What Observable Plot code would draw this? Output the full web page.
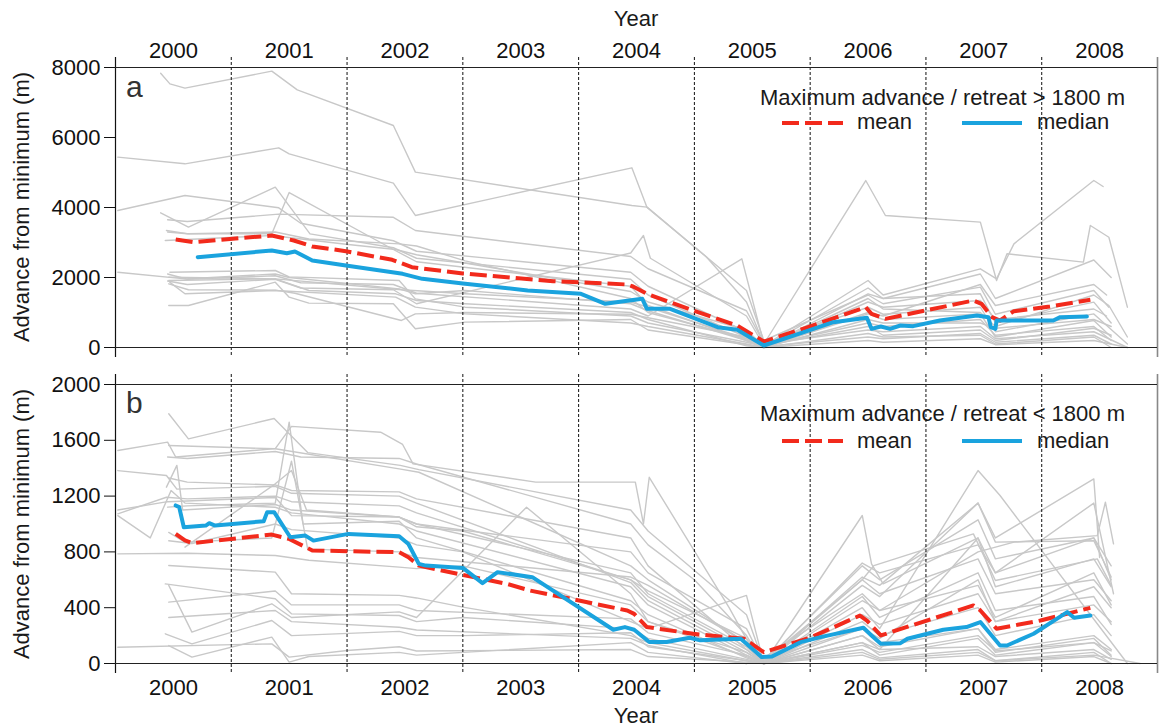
<!DOCTYPE html>
<html><head><meta charset="utf-8">
<script src="https://cdn.jsdelivr.net/npm/d3@7"></script>
<script src="https://cdn.jsdelivr.net/npm/@observablehq/plot@0.6"></script>
<style>
body{margin:0;background:#fff;}
#wrap{position:relative;width:1159px;height:727px;overflow:hidden;font-family:"Liberation Sans",Arial,sans-serif;}
#wrap svg{overflow:visible;}
.panel{position:absolute;left:0;}
</style></head><body><div id="wrap"></div>
<script>
// ---------- data ----------
const years = [2000, 2001, 2002, 2003, 2004, 2005, 2006, 2007, 2008];
const yearBoundaries = [2001, 2002, 2003, 2004, 2005, 2006, 2007, 2008];
const xDomain = [2000, 2009];
const topTicks = [0, 2000, 4000, 6000, 8000];
const bottomTicks = [0, 400, 800, 1200, 1600, 2000];
const yTitle = "Advance from minimum (m)";
const xTitle = "Year";
const topLegendTitle = "Maximum advance / retreat > 1800 m";
const bottomLegendTitle = "Maximum advance / retreat < 1800 m";
const legendNames = ["mean", "median"];
const panelLetters = ["a", "b"];

const topMean = [[2000.52,3086],[2000.68,3010],[2001.35,3200],[2001.54,3057],[2001.70,2886],[2001.99,2752],[2002.39,2505],[2002.56,2295],[2003.0,2115],[2003.78,1895],[2004.42,1800],[2004.47,1743],[2004.59,1533],[2004.99,1057],[2005.37,629],[2005.51,343],[2005.6,170],[2006.0,600],[2006.48,1152],[2006.53,962],[2006.65,819],[2007.41,1343],[2007.48,1248],[2007.57,867],[2007.64,771],[2007.76,1038],[2008.07,1171],[2008.42,1362]];
const topMedian = [[2000.71,2581],[2001.35,2771],[2001.48,2695],[2001.55,2743],[2001.70,2486],[2001.99,2343],[2002.48,2105],[2002.65,1962],[2003.0,1830],[2003.56,1629],[2004.02,1533],[2004.23,1248],[2004.55,1390],[2004.59,1105],[2004.79,1105],[2005.2,581],[2005.37,505],[2005.6,57],[2005.92,410],[2006.2,724],[2006.49,848],[2006.53,533],[2006.61,600],[2006.69,533],[2006.78,628],[2006.89,610],[2007.12,771],[2007.44,914],[2007.54,867],[2007.56,581],[2007.6,533],[2007.61,771],[2008.1,771],[2008.16,867],[2008.39,886]];
const topGlaciers = [
 [[2000.39,7838],[2000.47,7533],[2000.6,7410],[2001.35,7895],[2001.57,7362],[2002.4,6343],[2002.59,5010],[2004.46,4057],[2004.59,4010],[2005.45,1629],[2005.6,200],[2006.5,1500],[2006.63,1250],[2007.47,1724],[2007.6,950],[2008.45,1629],[2008.58,1150]],
 [[2000.02,5438],[2000.6,5248],[2001.41,5705],[2001.5,5533],[2002.4,4695],[2002.59,3772],[2004.46,5134],[2004.59,4010],[2005.1,2600],[2005.45,1300],[2005.6,100],[2006.48,4771],[2006.65,3771],[2007.47,3581],[2007.61,1914],[2007.7,2677],[2008.36,2438],[2008.42,3486],[2008.58,3150],[2008.74,1152]],
 [[2000.02,3915],[2000.6,4343],[2001.41,3991],[2001.6,3550],[2002.4,3050],[2002.6,2750],[2004.45,2150],[2004.6,1750],[2005.45,450],[2005.6,50],[2006.5,1914],[2006.63,1500],[2007.47,2248],[2007.61,1962],[2007.76,2962],[2008.45,4771],[2008.53,4600]],
 [[2000.39,3848],[2000.63,3438],[2001.38,4581],[2001.68,3248],[2002.4,2850],[2002.6,2550],[2004.45,1950],[2004.6,1500],[2005.45,300],[2005.6,0],[2006.5,1534],[2006.63,1400],[2007.47,1534],[2007.6,700],[2008.45,1295],[2008.6,700]],
 [[2000.45,3648],[2000.62,3600],[2001.41,3810],[2002.4,3720],[2002.59,3343],[2004.45,2600],[2004.6,2250],[2005.45,1050],[2005.6,120],[2006.5,1150],[2006.63,950],[2007.47,1150],[2007.6,450],[2008.45,960],[2008.74,100]],
 [[2000.45,3300],[2000.62,3250],[2001.35,3250],[2001.5,4428],[2002.4,2800],[2002.6,2450],[2004.45,1750],[2004.6,1200],[2005.45,200],[2005.6,0],[2006.5,960],[2006.63,800],[2007.47,960],[2007.6,300],[2008.45,770],[2008.6,300]],
 [[2000.45,1900],[2000.62,1800],[2001.38,1950],[2001.6,1700],[2002.4,1650],[2002.6,1250],[2004.45,2700],[2004.56,3200],[2004.62,2550],[2005.45,900],[2005.6,50],[2006.5,700],[2006.63,600],[2007.47,800],[2007.6,350],[2008.45,600],[2008.6,200]],
 [[2000.45,2100],[2000.62,1950],[2001.38,2050],[2001.6,1850],[2002.4,1800],[2002.6,1550],[2004.45,1100],[2004.6,900],[2005.41,2534],[2005.6,100],[2006.5,500],[2006.63,450],[2007.47,600],[2007.6,250],[2008.45,450],[2008.74,0]],
 [[2000.02,2152],[2000.6,1962],[2001.38,2100],[2001.5,2000],[2002.45,1676],[2002.59,1534],[2003.02,1629],[2004.45,1250],[2004.6,1050],[2005.45,200],[2005.6,0],[2006.5,1300],[2006.63,1150],[2007.47,1343],[2007.6,800],[2008.45,1100],[2008.56,900]],
 [[2000.47,2152],[2001.38,2200],[2001.5,2019],[2002.45,1914],[2002.59,1390],[2003.02,1152],[2004.45,900],[2004.6,700],[2005.45,150],[2005.6,30],[2006.5,300],[2006.63,250],[2007.47,400],[2007.6,150],[2008.45,350],[2008.6,100]],
 [[2000.46,1914],[2001.38,1962],[2002.47,1650],[2003.02,1534],[2004.45,1300],[2004.6,1150],[2005.45,250],[2005.6,0],[2006.5,800],[2006.63,700],[2007.47,700],[2007.6,550],[2008.45,800],[2008.6,600]],
 [[2000.47,1860],[2000.6,1534],[2001.38,1629],[2002.42,1438],[2002.59,1152],[2003.02,962],[2004.45,700],[2004.6,600],[2005.45,100],[2005.6,0],[2006.5,200],[2006.63,150],[2007.47,250],[2007.6,80],[2008.45,200],[2008.74,0]],
 [[2000.46,1200],[2000.63,1200],[2001.38,1867],[2001.5,1438],[2001.67,1267],[2002.4,1248],[2002.59,534],[2003.02,724],[2004.45,800],[2004.6,500],[2005.45,80],[2005.6,0],[2006.5,1400],[2006.63,1100],[2007.47,1000],[2007.6,600],[2008.45,1500],[2008.58,1200],[2008.74,300]],
 [[2000.46,1819],[2000.63,1650],[2001.38,1640],[2001.55,1550],[2002.47,772],[2002.59,962],[2003.02,1000],[2004.45,950],[2004.6,850],[2005.45,300],[2005.6,50],[2006.5,600],[2006.63,350],[2007.47,500],[2007.6,200],[2008.45,550],[2008.6,350]],
 [[2000.46,2010],[2001.38,1962],[2001.67,1629],[2002.42,1534],[2002.6,1343],[2003.02,1250],[2004.45,1000],[2004.6,800],[2005.45,50],[2005.6,0],[2006.5,1000],[2006.63,900],[2007.47,1800],[2007.6,1200],[2008.45,1800],[2008.56,1500]],
 [[2000.43,3057],[2001.35,3200],[2001.99,2950],[2002.42,2800],[2002.6,2650],[2004.45,1600],[2004.6,1300],[2005.45,500],[2005.6,30],[2006.5,1700],[2006.63,1400],[2007.47,2100],[2007.6,1400],[2008.45,2500],[2008.6,2000]],
 [[2000.44,3343],[2000.63,3248],[2001.38,3300],[2001.67,3100],[2002.45,2960],[2002.6,2900],[2003.02,2476],[2004.45,1400],[2004.6,1000],[2005.45,250],[2005.6,0],[2006.5,400],[2006.63,300],[2007.47,350],[2007.6,100],[2008.45,300],[2008.6,0]]
];

const bottomMean = [[2000.52,929],[2000.60,882],[2000.66,863],[2001.35,924],[2001.50,893],[2001.70,810],[2002.01,805],[2002.45,798],[2002.53,762],[2002.62,702],[2003.0,635],[2003.38,571],[2003.58,523],[2003.93,464],[2004.42,380],[2004.48,356],[2004.59,261],[2004.99,213],[2005.43,177],[2005.6,81],[2006.0,185],[2006.43,344],[2006.49,308],[2006.61,201],[2007.41,416],[2007.47,380],[2007.61,249],[2007.99,308],[2008.42,399]];
const bottomMedian = [[2000.52,1133],[2000.55,1121],[2000.59,977],[2000.78,989],[2000.81,1006],[2000.86,989],[2001.28,1020],[2001.31,1085],[2001.37,1085],[2001.51,905],[2001.64,917],[2001.71,881],[2002.01,929],[2002.45,912],[2002.53,857],[2002.62,714],[2002.68,702],[2003.0,685],[2003.17,576],[2003.30,655],[2003.6,619],[2004.3,242],[2004.4,261],[2004.48,242],[2004.61,154],[2004.76,154],[2004.96,185],[2005.05,166],[2005.4,177],[2005.45,141],[2005.58,46],[2005.67,50],[2005.92,153],[2006.09,189],[2006.46,256],[2006.53,201],[2006.61,141],[2006.78,146],[2006.84,177],[2007.15,242],[2007.35,261],[2007.47,297],[2007.64,129],[2007.7,129],[2007.93,213],[2008.22,368],[2008.28,328],[2008.42,344]];
const bottomGlaciers = [
 [[2000.46,1790],[2000.63,1610],[2001.37,1756],[2001.66,1512],[2002.46,1420],[2002.62,1390],[2004.45,1100],[2004.6,950],[2005.45,350],[2005.6,0],[2006.45,480],[2006.6,330],[2007.45,650],[2007.6,380],[2008.45,480],[2008.6,280]],
 [[2000.02,1527],[2000.45,1587],[2000.52,1480],[2001.38,1540],[2001.52,1700],[2002.29,1658],[2002.48,1570],[2002.57,1431],[2003.63,1300],[2004.45,1300],[2004.49,1300],[2004.56,1001],[2004.61,1335],[2005.3,400],[2005.5,100],[2005.6,0],[2006.45,250],[2006.6,150],[2007.45,250],[2007.6,80],[2008.45,180],[2008.6,60]],
 [[2000.46,1563],[2001.38,1539],[2002.45,1395],[2002.62,1371],[2004.45,700],[2004.6,600],[2005.45,150],[2005.6,10],[2006.45,700],[2006.6,600],[2007.45,1030],[2007.6,750],[2008.45,900],[2008.6,700]],
 [[2000.02,1383],[2000.44,1348],[2000.53,1250],[2001.38,1270],[2001.52,1220],[2002.45,1200],[2002.6,1150],[2004.45,580],[2004.6,450],[2005.45,80],[2005.6,0],[2006.45,1061],[2006.53,714],[2006.63,571],[2007.45,900],[2007.6,550],[2008.45,750],[2008.6,550]],
 [[2000.44,1264],[2000.53,1420],[2000.58,1100],[2001.38,1140],[2001.52,1100],[2002.45,1050],[2002.6,1000],[2004.45,650],[2004.6,500],[2005.45,120],[2005.6,0],[2006.45,400],[2006.6,250],[2007.45,1383],[2007.64,1204],[2008.74,0]],
 [[2000.02,1073],[2000.44,1192],[2000.62,1180],[2001.38,1200],[2001.52,1160],[2002.45,1130],[2002.6,1080],[2004.45,600],[2004.6,520],[2005.45,180],[2005.6,20],[2006.45,600],[2006.6,500],[2007.45,750],[2007.6,500],[2008.45,600],[2008.6,450]],
 [[2000.02,1060],[2000.3,900],[2000.48,1240],[2000.6,1150],[2001.38,1120],[2001.52,1080],[2002.45,1000],[2002.6,950],[2004.45,550],[2004.6,420],[2005.45,60],[2005.6,0],[2006.45,300],[2006.6,200],[2007.45,400],[2007.6,200],[2008.45,350],[2008.6,200]],
 [[2000.45,1121],[2000.62,1130],[2001.38,1150],[2001.5,1730],[2001.62,1000],[2002.45,1020],[2002.6,900],[2004.45,450],[2004.6,350],[2005.45,40],[2005.6,0],[2006.45,560],[2006.6,480],[2007.45,1150],[2007.6,900],[2008.45,1323],[2008.5,760]],
 [[2000.6,834],[2001.38,1288],[2001.52,1383],[2001.65,1100],[2002.45,1050],[2002.6,980],[2003.0,950],[2004.45,600],[2004.6,480],[2005.45,100],[2005.6,0],[2006.45,450],[2006.6,380],[2007.45,800],[2007.76,870],[2008.48,917],[2008.55,1156],[2008.62,858]],
 [[2000.02,786],[2000.62,790],[2001.38,774],[2001.67,740],[2002.45,691],[2002.6,680],[2003.0,700],[2004.45,420],[2004.6,300],[2005.45,50],[2005.6,0],[2006.45,350],[2006.6,280],[2007.45,500],[2007.6,300],[2008.45,420],[2008.6,300]],
 [[2000.46,702],[2001.38,655],[2001.52,500],[2002.45,488],[2002.6,470],[2003.0,404],[2004.45,200],[2004.6,150],[2005.45,20],[2005.6,0],[2006.45,200],[2006.6,120],[2007.45,250],[2007.6,100],[2008.45,200],[2008.6,100]],
 [[2000.43,571],[2001.38,464],[2001.52,356],[2002.45,344],[2002.6,300],[2003.0,330],[2004.45,250],[2004.6,180],[2005.45,30],[2005.6,0],[2006.45,150],[2006.6,60],[2007.45,180],[2007.6,60],[2008.45,150],[2008.6,50]],
 [[2000.46,560],[2000.66,225],[2001.35,428],[2001.52,330],[2002.45,370],[2002.6,330],[2003.55,1120],[2004.45,500],[2004.6,300],[2005.45,80],[2005.6,0],[2006.45,600],[2006.55,702],[2007.41,929],[2007.6,595],[2008.48,750],[2008.6,560]],
 [[2000.43,213],[2000.66,141],[2001.35,308],[2001.52,200],[2002.45,230],[2002.6,200],[2003.0,200],[2004.45,220],[2004.6,120],[2005.45,20],[2005.6,0],[2006.45,100],[2006.6,40],[2007.45,100],[2007.6,20],[2008.45,80],[2008.6,0]],
 [[2000.02,117],[2001.35,141],[2001.5,46],[2002.0,93],[2002.45,120],[2002.6,90],[2004.45,100],[2004.6,50],[2005.45,10],[2005.6,0],[2006.45,60],[2006.6,20],[2007.45,60],[2007.6,10],[2008.45,50],[2008.6,0]],
 [[2000.46,129],[2000.66,46],[2001.35,189],[2001.5,10],[2001.67,50],[2002.45,80],[2002.6,60],[2004.45,150],[2004.6,80],[2005.45,0],[2005.6,30],[2006.45,250],[2006.6,180],[2007.45,600],[2007.6,300],[2008.45,550],[2008.6,400]],
 [[2000.46,880],[2000.66,860],[2001.38,1000],[2001.52,960],[2002.45,900],[2002.6,850],[2003.0,800],[2004.45,300],[2004.6,250],[2005.45,488],[2005.6,0],[2006.45,720],[2006.6,650],[2007.45,850],[2007.6,650],[2008.45,900],[2008.6,600]],
 [[2000.45,1480],[2000.62,1470],[2001.38,1520],[2001.6,1480],[2002.45,1470],[2002.6,1430],[2004.45,1000],[2004.6,850],[2005.0,600],[2005.45,200],[2005.6,0],[2006.45,150],[2006.6,100],[2007.45,120],[2007.6,50],[2008.45,100],[2008.6,30]],
 [[2000.02,1100],[2000.45,1160],[2001.38,1190],[2001.52,1060],[2002.45,1050],[2002.6,1000],[2004.45,800],[2004.6,650],[2005.45,250],[2005.6,0],[2006.45,620],[2006.6,560],[2007.45,1150],[2007.6,870],[2008.45,880],[2008.6,620]],
 [[2000.46,940],[2000.6,870],[2001.35,900],[2001.52,1450],[2001.66,820],[2002.45,800],[2002.6,760],[2004.45,620],[2004.6,560],[2005.45,150],[2005.6,0],[2006.45,200],[2006.6,100],[2007.45,900],[2007.6,650],[2008.45,1150],[2008.62,500]],
 [[2000.46,1330],[2000.62,1300],[2001.38,1280],[2001.52,1240],[2002.45,1230],[2002.6,1180],[2004.45,900],[2004.6,700],[2005.45,100],[2005.6,0],[2006.45,130],[2006.6,80],[2007.45,200],[2007.6,90],[2008.45,150],[2008.6,90]],
 [[2000.46,330],[2001.38,380],[2001.52,300],[2002.45,260],[2002.6,240],[2004.45,180],[2004.6,130],[2005.45,0],[2005.6,40],[2006.45,500],[2006.6,380],[2007.45,560],[2007.6,330],[2008.45,650],[2008.6,420]],
 [[2000.46,440],[2001.38,520],[2001.52,420],[2002.45,420],[2002.6,380],[2004.45,320],[2004.6,220],[2005.45,60],[2005.6,0],[2006.45,80],[2006.6,30],[2007.45,80],[2007.6,20],[2008.45,60],[2008.85,0]]
];

// ---------- styling ----------
const FONT = '"Liberation Sans", Arial, sans-serif';
const RED = "#f22a1c";
const BLUE = "#1aa3de";
const GRAY = "#c8c8c8";
const DASH = "17,6";

function panel({yDomain, yTicks, lines, mean, median, height, mt, mb, xAnchor, tp}) {
  const rows = lines.flatMap((pts, i) => pts.map(([x, y]) => ({id: i, x, y})));
  const toRows = pts => pts.map(([x, y]) => ({x, y}));
  return Plot.plot({
    width: 1159, height,
    marginLeft: 115, marginRight: 2, marginTop: mt, marginBottom: mb,
    style: {fontFamily: FONT, fontSize: "22px", color: "#111", background: "transparent", overflow: "visible"},
    x: {domain: xDomain},
    y: {domain: yDomain},
    marks: [
      Plot.line(rows, {x: "x", y: "y", z: "id", stroke: GRAY, strokeWidth: 1.4}),
      Plot.ruleX(yearBoundaries, {stroke: "#111", strokeWidth: 1, strokeDasharray: "3,2", insetTop: -10, insetBottom: -10}),
      Plot.ruleX([xDomain[0]], {stroke: "#111", strokeWidth: 1.2, insetTop: -10, insetBottom: -10}),
      Plot.ruleX([xDomain[1]], {stroke: "#888", strokeWidth: 1.6, insetTop: -10, insetBottom: -10}),
      Plot.ruleY(yDomain, {stroke: "#222", strokeWidth: 1.2}),
      Plot.line(toRows(mean), {x: "x", y: "y", stroke: RED, strokeWidth: 4, strokeDasharray: DASH, strokeLinecap: "butt"}),
      Plot.line(toRows(median), {x: "x", y: "y", stroke: BLUE, strokeWidth: 4}),
      Plot.axisY({ticks: yTicks, tickSize: 11, tickPadding: 4, fontSize: 22, tickFormat: d => String(d), label: null}),
      Plot.axisX({anchor: xAnchor, ticks: years.map(y => y + 0.5), tickFormat: d => String(Math.floor(d)),
        tickSize: 0, tickPadding: tp, fontSize: 22, label: null})
    ]
  });
}

const wrap = document.getElementById("wrap");
const topSvg = panel({yDomain: [0, 8000], yTicks: topTicks, lines: topGlaciers, mean: topMean, median: topMedian,
  height: 370, mt: 67, mb: 23, xAnchor: "top", tp: 10});
topSvg.classList.add("panel"); topSvg.style.top = "0px";
wrap.appendChild(topSvg);
const botSvg = panel({yDomain: [0, 2000], yTicks: bottomTicks, lines: bottomGlaciers, mean: bottomMean, median: bottomMedian,
  height: 357, mt: 14, mb: 64, xAnchor: "bottom", tp: 16});
botSvg.classList.add("panel"); botSvg.style.top = "370px";
wrap.appendChild(botSvg);

// ---------- overlay: titles, panel letters and legends ----------
const ov = d3.select(wrap).append("svg").attr("width", 1159).attr("height", 727)
  .style("position", "absolute").style("left", 0).style("top", 0).style("font-family", FONT);
const INK = "#1a1a1a";
ov.append("text").attr("x", 636).attr("y", 26).attr("text-anchor", "middle").attr("font-size", 22).attr("fill", INK).text(xTitle);
ov.append("text").attr("x", 636).attr("y", 723).attr("text-anchor", "middle").attr("font-size", 22).attr("fill", INK).text(xTitle);
ov.append("text").attr("transform", "translate(29,207) rotate(-90)").attr("text-anchor", "middle").attr("font-size", 22).attr("fill", INK).text(yTitle);
ov.append("text").attr("transform", "translate(29,524) rotate(-90)").attr("text-anchor", "middle").attr("font-size", 22).attr("fill", INK).text(yTitle);
function legend(title, yTitleBase, yLine, yText) {
  ov.append("text").attr("x", 760).attr("y", yTitleBase).attr("font-size", 22).attr("fill", INK).text(title);
  ov.append("line").attr("x1", 782).attr("x2", 843).attr("y1", yLine).attr("y2", yLine)
    .attr("stroke", RED).attr("stroke-width", 4).attr("stroke-dasharray", DASH);
  ov.append("text").attr("x", 857).attr("y", yText).attr("font-size", 22).attr("fill", INK).text(legendNames[0]);
  ov.append("line").attr("x1", 962).attr("x2", 1022).attr("y1", yLine).attr("y2", yLine)
    .attr("stroke", BLUE).attr("stroke-width", 4);
  ov.append("text").attr("x", 1037).attr("y", yText).attr("font-size", 22).attr("fill", INK).text(legendNames[1]);
}
legend(topLegendTitle, 105, 123, 129);
legend(bottomLegendTitle, 421, 441, 448);
ov.append("text").attr("x", 126).attr("y", 97).attr("font-size", 30).attr("fill", "#333").text(panelLetters[0]);
ov.append("text").attr("x", 126).attr("y", 413).attr("font-size", 30).attr("fill", "#333").text(panelLetters[1]);
</script></body></html>
